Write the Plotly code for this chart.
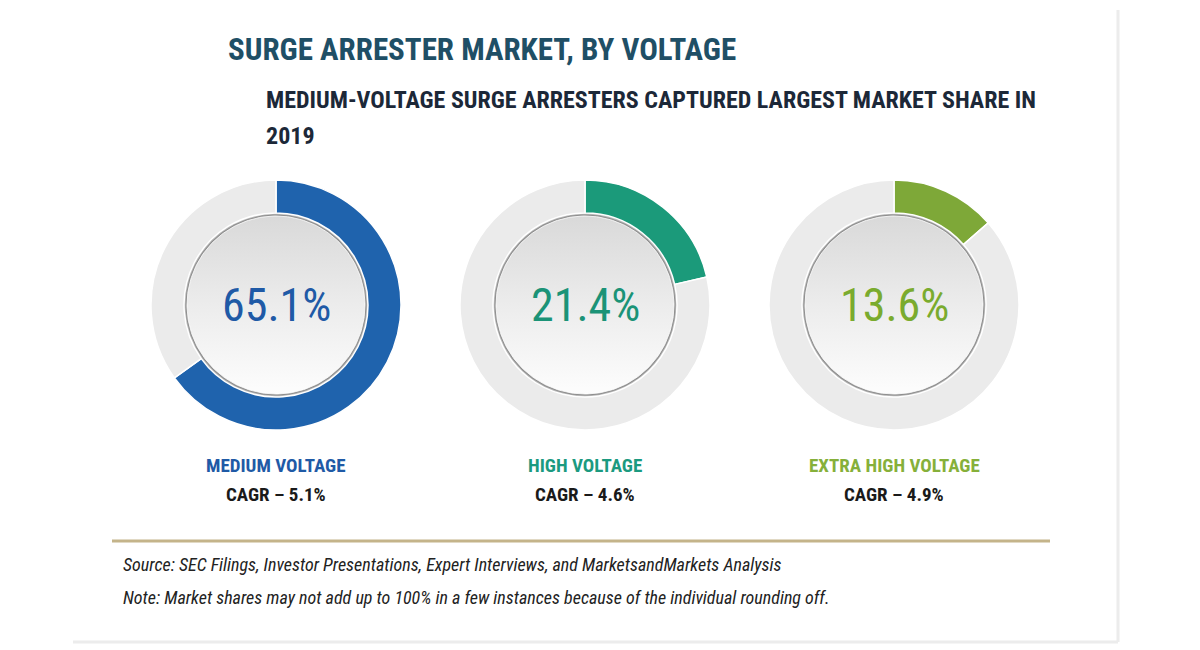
import numpy as np
import plotly.graph_objects as go

W, H = 1200, 650

# ---- data ----
segments = ["MEDIUM VOLTAGE", "HIGH VOLTAGE", "EXTRA HIGH VOLTAGE"]
shares = [65.1, 21.4, 13.6]
cagr = [5.1, 4.6, 4.9]
arc_colors = ["#1f63ad", "#1b9a7a", "#7ea838"]
text_colors = ["#1f5aa6", "#1b9377", "#7aab2e"]
label_colors = ["#1f5aa6", "#1b9a80", "#86b03a"]

title = "SURGE ARRESTER MARKET, BY VOLTAGE"
subtitle_lines = ["MEDIUM-VOLTAGE SURGE ARRESTERS CAPTURED LARGEST MARKET SHARE IN", "2019"]
source_text = "Source: SEC Filings, Investor Presentations, Expert Interviews, and MarketsandMarkets Analysis"
note_text = "Note: Market shares may not add up to 100% in a few instances because of the individual rounding off."

# ---- layout geometry (pixels) ----
centers_x = [276, 585, 894]
center_y = 305
R_OUT = 125
R_HOLE = 92
R_INNER = 89

NARROW = "Roboto Condensed, Open Sans Condensed, Liberation Sans Narrow, DejaVu Sans Condensed, sans-serif"

fig = go.Figure()

theta = np.linspace(0, 2 * np.pi, 241)
for i, cx in enumerate(centers_x):
    # soft shadow ring
    fig.add_trace(go.Scatter(
        x=cx + (R_HOLE + 1) * np.cos(theta), y=center_y + (R_HOLE + 1) * np.sin(theta),
        mode="lines", fill="toself", fillcolor="#b9b9b9",
        line=dict(width=0, color="#b9b9b9"), hoverinfo="skip", showlegend=False))
    fig.add_trace(go.Scatter(
        x=cx + (R_INNER + 1.5) * np.cos(theta), y=center_y + (R_INNER + 1.5) * np.sin(theta),
        mode="lines", fill="toself", fillcolor="#8f8f8f",
        line=dict(width=0, color="#8f8f8f"), hoverinfo="skip", showlegend=False))
    # inner gradient disc
    fig.add_trace(go.Scatter(
        x=cx + R_INNER * np.cos(theta), y=center_y + R_INNER * np.sin(theta),
        mode="lines", fill="toself",
        fillgradient=dict(type="vertical",
                          colorscale=[[0, "#d9d9d9"], [0.5, "#ececec"], [1, "#fdfdfd"]],
                          start=center_y - R_INNER, stop=center_y + R_INNER),
        line=dict(width=0.8, color="#ffffff"), hoverinfo="skip", showlegend=False))

    # donut ring
    fig.add_trace(go.Pie(
        values=[shares[i], 100 - shares[i]],
        labels=[segments[i], "Other"],
        marker=dict(colors=[arc_colors[i], "#ebebeb"], line=dict(color="#ffffff", width=1.5)),
        hole=R_HOLE / R_OUT, sort=False, direction="clockwise", rotation=0,
        textinfo="none", showlegend=False, hoverinfo="label+value",
        domain=dict(x=[(cx - R_OUT) / W, (cx + R_OUT) / W],
                    y=[1 - (center_y + R_OUT) / H, 1 - (center_y - R_OUT) / H])))

    fig.add_annotation(x=cx, y=center_y, text=f"{shares[i]:.1f}%", showarrow=False,
                       xanchor="center", yanchor="middle",
                       font=dict(family=NARROW, size=46, color=text_colors[i]))
    fig.add_annotation(x=cx, y=465, text=segments[i], showarrow=False,
                       xanchor="center", yanchor="middle",
                       font=dict(family=NARROW, size=19, color=label_colors[i], weight="bold"))
    fig.add_annotation(x=cx, y=494, text=f"CAGR \u2013 {cagr[i]:.1f}%", showarrow=False,
                       xanchor="center", yanchor="middle",
                       font=dict(family=NARROW, size=19, color="#1a1a1a", weight="bold"))

# titles
fig.add_annotation(x=226, y=49, text=title, showarrow=False, xanchor="left", yanchor="middle",
                   font=dict(family=NARROW, size=31, color="#1f4f66", weight="bold"))
for k, line in enumerate(subtitle_lines):
    fig.add_annotation(x=264, y=100 + 36 * k, text=line, showarrow=False,
                       xanchor="left", yanchor="middle",
                       font=dict(family=NARROW, size=24, color="#1c2838", weight="bold"))

# source / note
fig.add_annotation(x=121, y=564, text=source_text, showarrow=False, xanchor="left", yanchor="middle",
                   font=dict(family=NARROW, size=18, color="#222222", style="italic"))
fig.add_annotation(x=121, y=597, text=note_text, showarrow=False, xanchor="left", yanchor="middle",
                   font=dict(family=NARROW, size=18, color="#222222", style="italic"))

# separator and card border
fig.add_shape(type="line", x0=112, x1=1050, y0=541, y1=541, xref="x", yref="y",
              line=dict(color="#c4b48a", width=3))
fig.add_shape(type="line", x0=1118, x1=1118, y0=10, y1=642, xref="x", yref="y",
              line=dict(color="#ececec", width=3))
fig.add_shape(type="line", x0=73, x1=1118, y0=642, y1=642, xref="x", yref="y",
              line=dict(color="#ececec", width=3))

fig.update_layout(
    width=W, height=H, margin=dict(l=0, r=0, t=0, b=0),
    paper_bgcolor="#ffffff", plot_bgcolor="#ffffff",
    xaxis=dict(range=[0, W], visible=False, fixedrange=True),
    yaxis=dict(range=[H, 0], visible=False, fixedrange=True),
    showlegend=False,
)

fig.write_html("out.html")
